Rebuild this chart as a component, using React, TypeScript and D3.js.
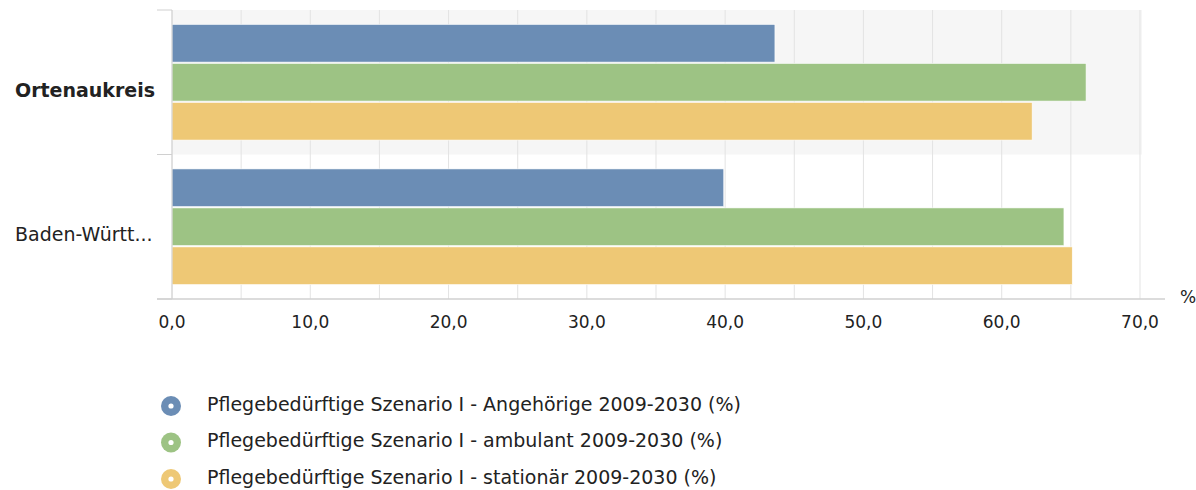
import React, { useEffect, useRef } from 'react';
import * as d3 from 'd3';

const categories = ['Ortenaukreis', 'Baden-Württ...'];
const seriesNames = [
  'Pflegebedürftige Szenario I - Angehörige 2009-2030 (%)',
  'Pflegebedürftige Szenario I - ambulant 2009-2030 (%)',
  'Pflegebedürftige Szenario I - stationär 2009-2030 (%)',
];
const angehoerige = [43.6, 39.9];
const ambulant = [66.1, 64.5];
const stationaer = [62.2, 65.1];
const xTicks = [0, 10, 20, 30, 40, 50, 60, 70];
const colors = ['#6b8db5', '#9dc384', '#eec875'];

const font = '"DejaVu Sans", sans-serif';

function App() {
  const ref = useRef<SVGSVGElement>(null);

  useEffect(() => {
    const svg = d3.select(ref.current);
    svg.selectAll('*').remove();

    const left = 172;
    const right = 1140;
    const top = 10;
    const bottom = 299;

    const x = d3.scaleLinear().domain([0, 70]).range([left, right]);
    const y0 = d3.scaleBand().domain(categories).range([top, bottom]);
    const y1 = d3.scaleBand()
      .domain(['0', '1', '2'])
      .range([0, y0.bandwidth()])
      .paddingOuter(0.37)
      .paddingInner(0.034);

    const values = [angehoerige, ambulant, stationaer];

    // alternating band background
    svg.append('rect')
      .attr('x', left)
      .attr('y', y0(categories[0])!)
      .attr('width', right - left + 2)
      .attr('height', y0.bandwidth())
      .attr('fill', '#f6f6f6');

    // grid lines every 5
    const grid = d3.range(0, 70.01, 5);
    svg.append('g')
      .selectAll('line')
      .data(grid)
      .enter()
      .append('line')
      .attr('x1', d => x(d))
      .attr('x2', d => x(d))
      .attr('y1', top)
      .attr('y2', bottom)
      .attr('stroke', '#e3e3e3')
      .attr('stroke-width', 1);

    // bars
    categories.forEach((c, ci) => {
      const g = svg.append('g').attr('transform', `translate(0, ${y0(c)})`);
      values.forEach((vals, si) => {
        g.append('rect')
          .attr('x', x(0))
          .attr('y', y1(String(si))!)
          .attr('width', x(vals[ci]) - x(0))
          .attr('height', y1.bandwidth())
          .attr('fill', colors[si])
          .attr('stroke', '#ffffff')
          .attr('stroke-width', 0.6);
      });
    });

    // y axis line and category ticks
    svg.append('line')
      .attr('x1', left).attr('x2', left)
      .attr('y1', top).attr('y2', bottom)
      .attr('stroke', '#d0d0d0');
    svg.append('g')
      .selectAll('line')
      .data([top, y0(categories[1])!, bottom])
      .enter()
      .append('line')
      .attr('x1', 157).attr('x2', left)
      .attr('y1', d => d).attr('y2', d => d)
      .attr('stroke', '#d0d0d0');

    // x axis line
    svg.append('line')
      .attr('x1', 157).attr('x2', 1165)
      .attr('y1', bottom).attr('y2', bottom)
      .attr('stroke', '#d0d0d0')
      .attr('stroke-width', 1.5);

    // category labels
    svg.append('g')
      .selectAll('text')
      .data(categories)
      .enter()
      .append('text')
      .attr('x', 15)
      .attr('y', d => y0(d)! + y0.bandwidth() / 2 + 8)
      .attr('dy', '0.35em')
      .attr('font-family', font)
      .attr('font-size', 19)
      .attr('font-weight', (d, i) => (i === 0 ? 'bold' : 'normal'))
      .attr('fill', '#222')
      .text(d => d);

    // x tick labels
    svg.append('g')
      .selectAll('text')
      .data(xTicks)
      .enter()
      .append('text')
      .attr('x', d => x(d))
      .attr('y', 328)
      .attr('text-anchor', 'middle')
      .attr('font-family', font)
      .attr('font-size', 17)
      .attr('fill', '#222')
      .text(d => d3.format('.1f')(d).replace('.', ','));

    svg.append('text')
      .attr('x', 1180)
      .attr('y', 303)
      .attr('font-family', font)
      .attr('font-size', 17)
      .attr('fill', '#222')
      .text('%');

    // legend
    const legend = svg.append('g')
      .selectAll('g')
      .data(seriesNames)
      .enter()
      .append('g')
      .attr('transform', (d, i) => `translate(171, ${406 + i * 36.5})`);
    legend.append('circle').attr('r', 10).attr('fill', (d, i) => colors[i]);
    legend.append('circle').attr('r', 2.6).attr('fill', '#fff');
    legend.append('text')
      .attr('x', 36)
      .attr('y', -2)
      .attr('dy', '0.35em')
      .attr('font-family', font)
      .attr('font-size', 19)
      .attr('fill', '#222')
      .text(d => d);
  }, []);

  return (
    <svg
      ref={ref}
      width={1196}
      height={490}
      style={{ position: 'absolute', left: 0, top: 0, background: '#fff' }}
    />
  );
}

export default App;
